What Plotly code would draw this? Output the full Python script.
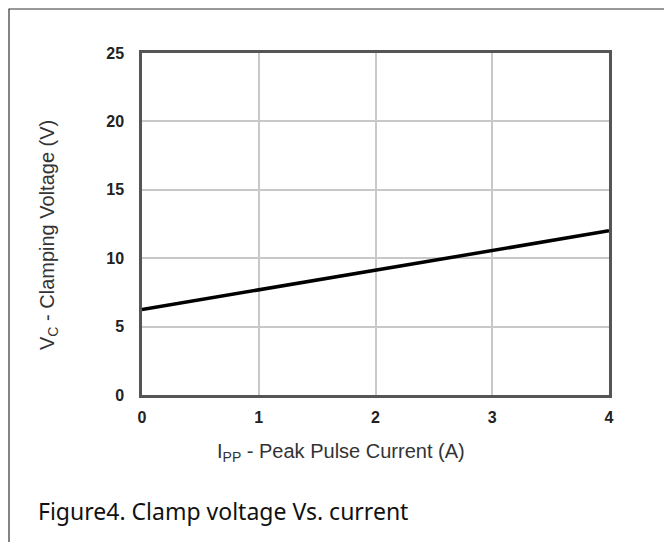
import plotly.graph_objects as go

current_a = [0, 4]
clamp_v = [6.25, 12.0]
x_ticks = [0, 1, 2, 3, 4]
y_ticks = [0, 5, 10, 15, 20, 25]

# page offset of the plotly div (body margin)
OFF = 8
W, H = 672 - OFF, 542 - OFF
L, R, T, B = 142 - OFF, 672 - 609, 53 - OFF, 542 - 395
pw, ph = W - L - R, H - T - B

def px_x(page_x):
    return (page_x - OFF - L) / pw

def px_y(page_y):
    return (H - B - (page_y - OFF)) / ph

fig = go.Figure()
fig.add_trace(go.Scatter(x=current_a, y=clamp_v, mode="lines",
                         line=dict(color="#000000", width=3.5),
                         showlegend=False, hoverinfo="skip"))

tick_font = dict(family="Liberation Sans, Arial", size=16, color="#222222", weight="bold")
axis_common = dict(showgrid=True, gridcolor="#c8c8c8", gridwidth=1.5,
                   zeroline=False, showline=True, linecolor="#555555",
                   linewidth=2.5, mirror=True, ticks="", tickfont=tick_font)

fig.update_xaxes(range=[0, 4], tickvals=x_ticks, ticklabelstandoff=6, **axis_common)
fig.update_yaxes(range=[0, 25], tickvals=y_ticks, ticklabelstandoff=12, **axis_common)

title_font = dict(family="Liberation Sans, Arial", size=20, color="#333333")
fig.add_annotation(text="I<sub>PP</sub> - Peak Pulse Current (A)", xref="paper", yref="paper",
                   x=px_x(341), y=px_y(452), xanchor="center", yanchor="middle",
                   showarrow=False, font=title_font)
fig.add_annotation(text="V<sub>C</sub> - Clamping Voltage (V)", xref="paper", yref="paper",
                   x=px_x(48), y=px_y(235), xanchor="center", yanchor="middle",
                   textangle=-90, showarrow=False, font=title_font)

fig.add_shape(type="rect", xref="paper", yref="paper",
              x0=px_x(9), x1=px_x(667),
              y0=px_y(620), y1=px_y(9),
              line=dict(color="#333333", width=1.2), fillcolor="rgba(0,0,0,0)", layer="above")

fig.add_annotation(text="Figure4. Clamp voltage Vs. current", xref="paper", yref="paper",
                   x=px_x(36), y=px_y(511), xanchor="left", yanchor="middle",
                   showarrow=False,
                   font=dict(family="Noto Sans, Open Sans", size=23, color="#111111"))

fig.update_layout(width=W, height=H, margin=dict(l=L, r=R, t=T, b=B),
                  paper_bgcolor="white", plot_bgcolor="white")

fig.write_html("out.html")
